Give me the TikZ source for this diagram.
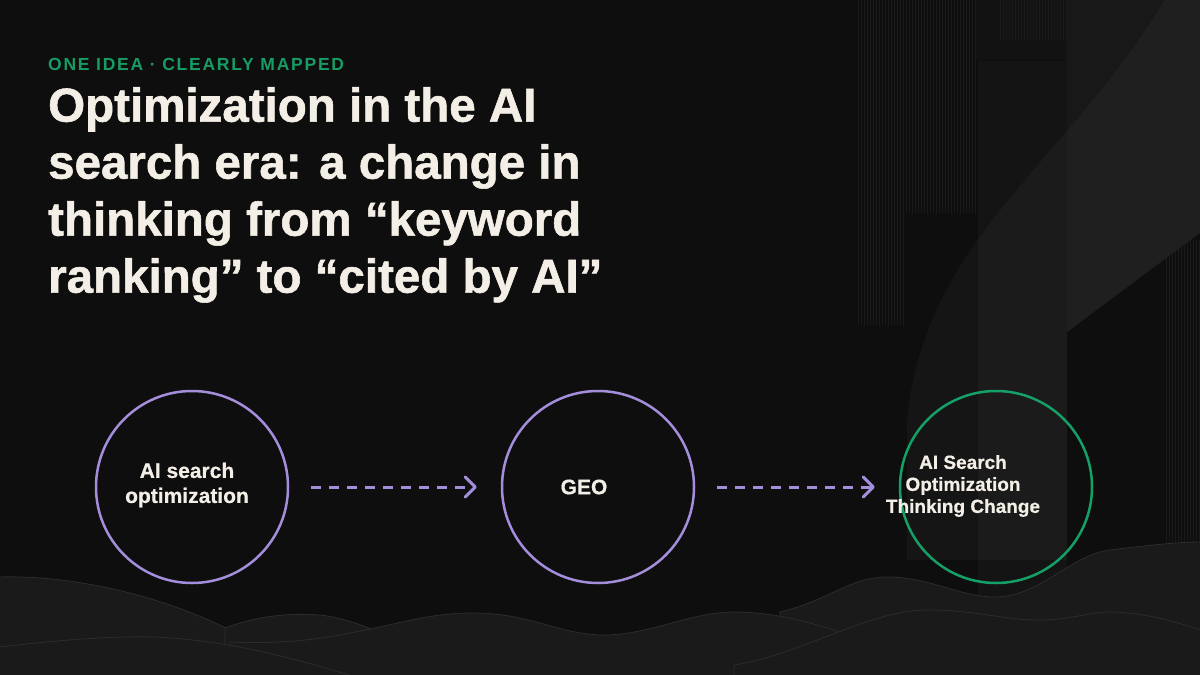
\documentclass[tikz,border=0pt]{standalone}
\usepackage{fontspec}
\setmainfont{Liberation Sans}
\usetikzlibrary{arrows.meta}
\usetikzlibrary{positioning}

\definecolor{bgcol}{HTML}{0E0E0E}
\definecolor{panelcol}{HTML}{141414}
\definecolor{panellight}{HTML}{181819}
\definecolor{stripecol}{HTML}{1A1A1A}
\definecolor{wavecol}{HTML}{1A1A1A}
\definecolor{waveedge}{HTML}{2C2C2C}
\definecolor{textwhite}{HTML}{F3EFE6}
\definecolor{kickergreen}{HTML}{179C63}
\definecolor{ringpurple}{HTML}{A48EDB}
\definecolor{ringgreen}{HTML}{14A066}

\begin{document}
\begin{tikzpicture}[x=1pt,y=-1pt]
            \tikzstyle{stage} = [circle, draw=ringpurple, line width=2.5pt, minimum size=192pt, inner sep=0pt]
            \tikzstyle{goal} = [stage, draw=ringgreen]
            \tikzstyle{stage text} = [text=textwhite, inner sep=0pt, align=center, font=\bfseries\fontsize{21}{25}\selectfont\addfontfeatures{FakeBold=0.6}]
            \tikzstyle{flow} = [draw=ringpurple, line width=3pt, dash pattern=on 10pt off 8pt, -{Straight Barb[length=10pt, width=20pt, line join=round, line cap=round]}]
            \tikzstyle{wave} = [fill=wavecol, draw=waveedge, line width=0.8pt]
            \tikzstyle{stripe} = [draw=stripecol, line width=0.7pt]
            \useasboundingbox (0, 0) rectangle (1200, 675);
            \fill[bgcol] (0, 0) rectangle (1200, 675);
            % right side backdrop
            \fill[panelcol] (978, 61) rectangle (1067, 675);
            \fill[black!93] (975, 0) rectangle (1067, 60);
            \foreach \x in {858, 861, ..., 903} {
                \draw[stripe] (\x, 0) -- (\x, 325);
            }
            \foreach \x in {906, 909, ..., 975} {
                \draw[stripe] (\x, 0) -- (\x, 213);
            }
            \foreach \x in {1000, 1003, ..., 1066} {
                \draw[stripe] (\x, 0) -- (\x, 40);
            }
            \foreach \x in {1166, 1169, ..., 1200} {
                \draw[stripe] (\x, 240) -- (\x, 560);
            }
            \fill[panellight] (1067, 0) -- (1200, 0) -- (1200, 233) -- (1067, 332) -- cycle;
            \fill[white, opacity=0.03] (1165, 0) .. controls (1060, 170) and (925, 240) .. (907, 420)
                -- (907, 560) -- (1067, 560) -- (1067, 332) -- (1200, 233) -- (1200, 0) -- cycle;
            % hills
            \draw[wave] (780, 676) -- (780, 612) .. controls (830, 600) and (850, 577) .. (887, 577)
                .. controls (930, 577) and (960, 597) .. (995, 597)
                .. controls (1040, 597) and (1070, 555) .. (1110, 550)
                .. controls (1150, 545) and (1180, 542) .. (1201, 542) -- (1201, 676) -- cycle;
            \draw[wave] (-1, 676) -- (-1, 577) .. controls (60, 575) and (150, 590) .. (230, 630)
                .. controls (260, 645) and (280, 650) .. (306, 655) -- (306, 676) -- cycle;
            \draw[wave] (225, 676) -- (225, 628) .. controls (260, 615) and (290, 613) .. (320, 615)
                .. controls (345, 618) and (360, 625) .. (380, 632) -- (380, 676) -- cycle;
            \draw[wave] (230, 676) -- (230, 642) .. controls (300, 645) and (340, 635) .. (375, 628)
                .. controls (420, 618) and (440, 613) .. (474, 613)
                .. controls (530, 613) and (560, 635) .. (604, 635)
                .. controls (650, 635) and (690, 612) .. (734, 612)
                .. controls (780, 612) and (820, 625) .. (870, 642) -- (870, 676) -- cycle;
            \draw[wave] (734, 676) -- (734, 665) .. controls (800, 655) and (870, 610) .. (926, 610)
                .. controls (980, 610) and (1000, 620) .. (1040, 620)
                .. controls (1070, 620) and (1090, 612) .. (1109, 612)
                .. controls (1140, 612) and (1170, 620) .. (1201, 630) -- (1201, 676) -- cycle;
            \draw[wave] (-1, 676) -- (-1, 647) .. controls (60, 640) and (110, 636) .. (153, 637)
                .. controls (230, 640) and (300, 660) .. (352, 676) -- cycle;
            % heading
            \node[anchor=base west, inner sep=0pt, text=kickergreen, font=\bfseries\fontsize{17.5}{17.5}\selectfont\addfontfeatures{LetterSpace=10}] (kicker) at (48, 70) {ONE IDEA · CLEARLY MAPPED};
            \node[anchor=north west, inner sep=0pt, text=textwhite, align=left, font=\bfseries\fontsize{47.5}{57}\selectfont\addfontfeatures{FakeBold=1.2}] (title) at (48, 87) {Optimization in the AI\\search era: a change in\\thinking from “keyword\\ranking” to “cited by AI”};
            % stages
            \node[stage] (search) at (192, 487) {};
            \node[stage] (geo) at (598, 487) {};
            \node[goal] (change) at (996, 487) {};
            \node[stage text] (search text) at (187, 485) {AI search\\optimization};
            \node[stage text] (geo text) at (584, 487) {GEO};
            \node[stage text, font=\bfseries\fontsize{19}{22}\selectfont\addfontfeatures{FakeBold=0.6}] (change text) at (963, 486) {AI Search\\Optimization\\Thinking Change};
            \draw[flow, shorten <=22pt, shorten >=24pt] (search) -- (geo);
            \draw[flow, shorten <=22pt, shorten >=24pt] (geo) -- (change);
        \end{tikzpicture}
\end{document}
